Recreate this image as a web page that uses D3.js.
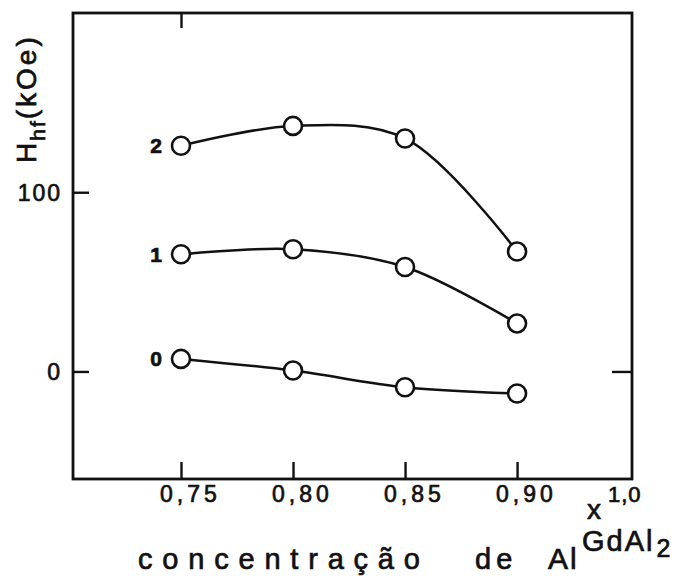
<!DOCTYPE html>
<html>
<head>
<meta charset="utf-8">
<script src="https://cdn.jsdelivr.net/npm/d3@7"></script>
<style>
  html, body { margin: 0; padding: 0; background: #fff; }
  svg { display: block; }
  text { font-family: "Liberation Sans", Arial, Helvetica, sans-serif; fill: #111; stroke: #111; stroke-width: 0.7px; }
</style>
</head>
<body>
<svg id="chart" width="681" height="577"></svg>
<script>
// Composition x of GdAl2 and the measured hyperfine fields (kOe)
const concentrations = [0.75, 0.80, 0.85, 0.90];
const seriesNames = ["0", "1", "2"];
const field0 = [7, 0.5, -8.8, -12.3];
const field1 = [65.4, 68.2, 58.3, 26.8];
const field2 = [125.9, 137.0, 130.0, 66.9];
const xTickValues = [0.75, 0.80, 0.85, 0.90];
const xTickLabels = ["0,75", "0,80", "0,85", "0,90"];
const xEdgeLabel = "1,0";
const yTickValues = [0, 100];
const yTickLabels = ["0", "100"];

const series = [
  { name: seriesNames[0], values: field0 },
  { name: seriesNames[1], values: field1 },
  { name: seriesNames[2], values: field2 }
];

const svg = d3.select("#chart");
const frameLeft = 73, frameRight = 632, frameTop = 13, frameBottom = 479;

const x = d3.scaleLinear().domain([0.7018, 0.9513]).range([frameLeft, frameRight]);
const y = d3.scaleLinear().domain([-60, 200]).range([frameBottom, frameTop]);

// Frame
svg.append("rect")
  .attr("x", frameLeft).attr("y", frameTop)
  .attr("width", frameRight - frameLeft).attr("height", frameBottom - frameTop)
  .attr("fill", "none").attr("stroke", "#111").attr("stroke-width", 2.8);

// Inward ticks on the bottom edge, plus a single one at the top
const xAxisBottom = d3.axisBottom(x).tickValues(xTickValues).tickSize(-17).tickFormat("");
svg.append("g").attr("transform", `translate(0,${frameBottom})`).call(xAxisBottom)
  .call(g => g.select(".domain").remove())
  .call(g => g.selectAll("line").attr("stroke", "#111").attr("stroke-width", 2.4));

const xAxisTop = d3.axisTop(x).tickValues([xTickValues[0]]).tickSize(-15).tickFormat("");
svg.append("g").attr("transform", `translate(0,${frameTop})`).call(xAxisTop)
  .call(g => g.select(".domain").remove())
  .call(g => g.selectAll("line").attr("stroke", "#111").attr("stroke-width", 2.4));

// Inward ticks on the left edge and one on the right at zero
const yAxisLeft = d3.axisLeft(y).tickValues(yTickValues).tickSize(-16).tickFormat("");
svg.append("g").attr("transform", `translate(${frameLeft},0)`).call(yAxisLeft)
  .call(g => g.select(".domain").remove())
  .call(g => g.selectAll("line").attr("stroke", "#111").attr("stroke-width", 2.4));

const yAxisRight = d3.axisRight(y).tickValues([0]).tickSize(-20).tickFormat("");
svg.append("g").attr("transform", `translate(${frameRight},0)`).call(yAxisRight)
  .call(g => g.select(".domain").remove())
  .call(g => g.selectAll("line").attr("stroke", "#111").attr("stroke-width", 2.4));

// Tick labels
svg.append("g").selectAll("text").data(xTickValues).join("text")
  .attr("x", d => x(d) - 21)
  .attr("y", 502)
  .attr("font-size", 23)
  .attr("letter-spacing", 4)
  .text((d, i) => xTickLabels[i]);

svg.append("text")
  .attr("x", x.range()[1] - 24)
  .attr("y", 502)
  .attr("font-size", 22)
  .attr("letter-spacing", 1)
  .text(xEdgeLabel);

svg.append("g").selectAll("text").data(yTickValues).join("text")
  .attr("x", 62)
  .attr("y", d => y(d))
  .attr("dy", "0.36em")
  .attr("text-anchor", "end")
  .attr("font-size", 23)
  .attr("letter-spacing", 2)
  .text((d, i) => yTickLabels[i]);

// Y axis title: H_hf (kOe)
const yTitle = svg.append("text")
  .attr("transform", "translate(36,163) rotate(-90)")
  .attr("font-size", 28);
yTitle.append("tspan").text("H");
yTitle.append("tspan").attr("dy", 9).attr("dx", 2).attr("font-size", 21).attr("letter-spacing", 2).text("hf");
yTitle.append("tspan").attr("dy", -9).attr("letter-spacing", 3).text("(kOe)");

// X axis title: concentração de Al with x over GdAl2
const xTitle = svg.append("text").attr("y", 569).attr("font-size", 29);
xTitle.append("tspan").attr("x", 138).attr("letter-spacing", 9.8).text("concentração");
xTitle.append("tspan").attr("x", 475).attr("letter-spacing", 5).text("de");
xTitle.append("tspan").attr("x", 548).attr("font-size", 30).attr("letter-spacing", 2).text("Al");

svg.append("text").attr("x", 587).attr("y", 519).attr("font-size", 28).text("x");
const gd = svg.append("text").attr("x", 582).attr("y", 551).attr("font-size", 29).attr("letter-spacing", 2);
gd.append("tspan").text("GdAl");
gd.append("tspan").attr("dy", 6).attr("dx", 2).attr("font-size", 25).text("2");

// Smooth curves through each series, with open circles at the measurements
const line = d3.line()
  .x((d, i) => x(concentrations[i]))
  .y(d => y(d))
  .curve(d3.curveCatmullRom.alpha(0.5));

const groups = svg.append("g").selectAll("g").data(series).join("g");

groups.append("path")
  .attr("d", d => line(d.values))
  .attr("fill", "none")
  .attr("stroke", "#111")
  .attr("stroke-width", 2.5);

groups.selectAll("circle").data(d => d.values).join("circle")
  .attr("cx", (d, i) => x(concentrations[i]))
  .attr("cy", d => y(d))
  .attr("r", 9)
  .attr("fill", "#fff")
  .attr("stroke", "#111")
  .attr("stroke-width", 2.6);

groups.append("text")
  .attr("x", d => x(concentrations[0]) - 19)
  .attr("y", d => y(d.values[0]))
  .attr("dy", "0.36em")
  .attr("text-anchor", "end")
  .attr("font-size", 21)
  .attr("font-weight", "bold")
  .attr("stroke-width", 0.3)
  .text(d => d.name);
</script>
</body>
</html>
